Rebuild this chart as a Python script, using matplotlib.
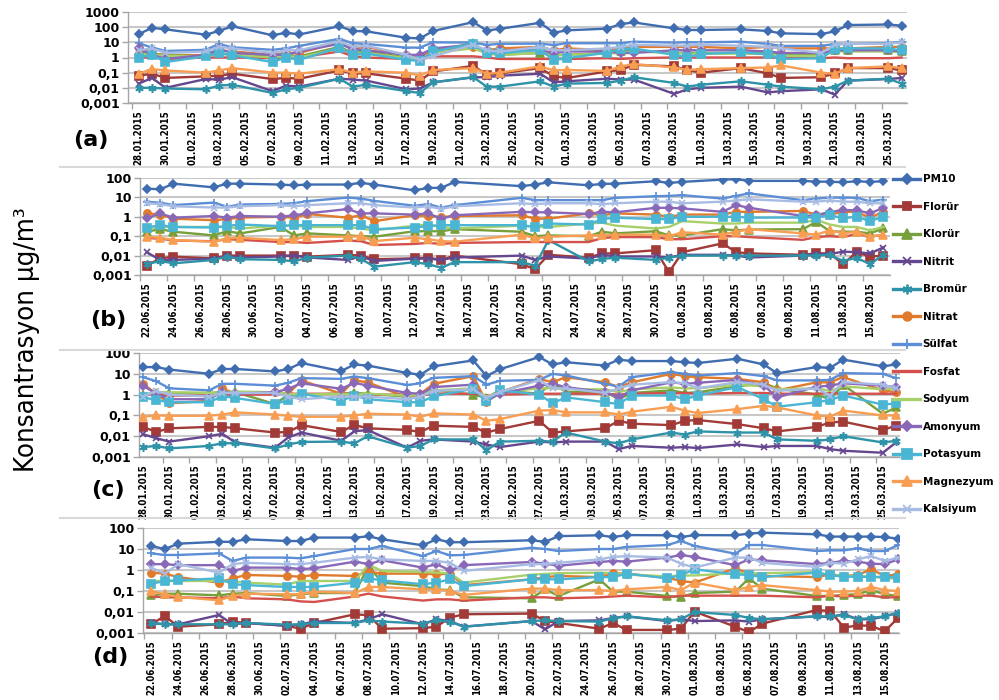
import pandas as pd
import matplotlib
matplotlib.use('Agg')
import matplotlib.pyplot as plt
import matplotlib.dates as mdates
import matplotlib.font_manager as fm
from matplotlib.lines import Line2D

# sampling dates (panels a and c: winter, panels b and d: summer)
dates_ac = ['28.01.2015', '29.01.2015', '30.01.2015', '02.02.2015', '03.02.2015', '04.02.2015',
            '07.02.2015', '08.02.2015', '09.02.2015', '12.02.2015', '13.02.2015', '14.02.2015',
            '17.02.2015', '18.02.2015', '19.02.2015', '22.02.2015', '23.02.2015', '24.02.2015',
            '27.02.2015', '28.02.2015', '01.03.2015', '04.03.2015', '05.03.2015', '06.03.2015',
            '09.03.2015', '10.03.2015', '11.03.2015', '14.03.2015', '16.03.2015', '17.03.2015',
            '20.03.2015', '21.03.2015', '22.03.2015', '25.03.2015', '26.03.2015']
dates_bd = ['22.06.2015', '23.06.2015', '24.06.2015', '27.06.2015', '28.06.2015', '29.06.2015',
            '02.07.2015', '03.07.2015', '04.07.2015', '07.07.2015', '08.07.2015', '09.07.2015',
            '12.07.2015', '13.07.2015', '14.07.2015', '15.07.2015', '20.07.2015', '21.07.2015',
            '22.07.2015', '25.07.2015', '26.07.2015', '27.07.2015', '30.07.2015', '31.07.2015',
            '01.08.2015', '04.08.2015', '05.08.2015', '06.08.2015', '10.08.2015', '11.08.2015',
            '12.08.2015', '13.08.2015', '14.08.2015', '15.08.2015', '16.08.2015']

species = ['PM10', 'Florür', 'Klorür', 'Nitrit', 'Bromür', 'Nitrat', 'Sülfat',
           'Fosfat', 'Sodyum', 'Amonyum', 'Potasyum', 'Magnezyum', 'Kalsiyum']

# panel (a)
a_pm10 = [35, 90, 72, 32, 56, 115, 29, 43, 33, 115, 56, 53, 20, 18, 56, 215, 60, 78, 195, 43,
          62, 80, 160, 205, 83, 65, 65, 72, 56, 39, 35, 53, 138, 150, 125]
a_florur = [0.063, 0.085, 0.045, 0.057, 0.063, 0.085, 0.038, 0.045, 0.04, 0.14, 0.09, 0.09, 0.04,
            0.03, 0.12, 0.28, 0.075, 0.09, 0.2, 0.057, 0.045, 0.12, 0.15, 0.33, 0.26, 0.15, 0.1,
            0.2, 0.09, 0.045, 0.05, 0.09, 0.2, 0.2, 0.14]
a_klorur = [2.5, 1.8, 1.5, 1.4, 2, 1.5, 1.2, 1.5, 1.2, 5, 2, 2.5, 1, 0.8, 2.5, 9, 2, 1.5, 2, 1.5,
            1.5, 2, 2.5, 3, 2, 2, 2, 2, 2, 1.5, 1.5, 3, 3, 3, 2.5]
a_nitrit = [0.019, 0.045, 0.01, 0.038, 0.035, 0.05, 0.006, 0.014, 0.012, 0.04, 0.035, 0.03,
            0.008, 0.009, 0.023, 0.05, 0.05, 0.063, 0.085, 0.023, 0.027, 0.04, 0.035, 0.035,
            0.004, 0.008, 0.01, 0.012, 0.005, 0.006, 0.008, 0.0036, 0.03, 0.038, 0.045]
a_bromur = [0.01, 0.01, 0.009, 0.008, 0.014, 0.016, 0.0046, 0.008, 0.01, 0.04, 0.012, 0.016,
            0.006, 0.0046, 0.023, 0.05, 0.012, 0.012, 0.027, 0.012, 0.019, 0.021, 0.03, 0.05,
            0.021, 0.012, 0.016, 0.027, 0.016, 0.012, 0.008, 0.012, 0.03, 0.04, 0.019]
a_nitrat = [4, 2, 1.2, 1.5, 3, 2.5, 1.5, 2, 2, 10, 4, 5, 1.5, 1, 3, 5, 3, 4, 5, 3, 4, 3, 4, 5,
            5, 5, 5, 4, 5, 4, 4, 4, 4, 5, 5]
a_sulfat = [8.7, 4.5, 2.7, 3.2, 7.8, 4.7, 3.2, 4, 5.8, 17, 8.7, 7.8, 4.5, 4.5, 10, 9.6, 6.8, 8,
            8.2, 6.7, 8.7, 8.7, 8.7, 11, 9.6, 10, 10, 11, 7.8, 5.8, 5.8, 7.8, 7.8, 8.7, 11]
a_fosfat = [1, 1, 0.8, 1, 1, 1, 0.9, 1, 1, 2.5, 1.2, 1, 0.8, 0.7, 1.2, 1.2, 1, 0.8, 0.8, 0.8,
            0.8, 0.9, 0.8, 0.9, 1, 1, 1, 1, 1, 1, 0.9, 1, 0.9, 0.9, 1]
a_sodyum = [1.5, 1.5, 1.3, 1.2, 1.7, 1.5, 1.0, 1.3, 1.0, 4, 1.8, 2, 0.9, 0.8, 2, 4, 1.8, 1.5, 2,
            1.3, 1.5, 1.8, 2, 2.5, 2, 1.8, 1.8, 1.8, 1.7, 1.3, 1.3, 2.5, 2.5, 2.5, 2.2]
a_amonyum = [4, 1.5, 0.8, 1.5, 3.5, 2, 1.5, 1.5, 2.5, 8, 3.5, 3, 1.5, 1.5, 4, 7, 2.5, 3, 3, 2,
             2.5, 2.5, 2, 2, 3, 3, 3, 3, 2.5, 2, 2, 3, 3, 3, 2.5]
a_potasyum = [1, 1.5, 0.5, 1.2, 2, 1.4, 0.5, 1, 0.7, 4.5, 1.5, 1.8, 0.7, 0.6, 2.5, 8, 1.9, 1.9,
              3.2, 0.7, 0.9, 2.1, 3.5, 3.9, 1.5, 1.05, 1.7, 2.2, 1.6, 0.8, 0.9, 3.5, 4, 4, 2.9]
a_magnezyum = [0.085, 0.17, 0.14, 0.1, 0.14, 0.2, 0.1, 0.1, 0.085, 0.17, 0.1, 0.12, 0.1, 0.065,
               0.15, 0.2, 0.085, 0.1, 0.26, 0.14, 0.15, 0.13, 0.26, 0.37, 0.22, 0.15, 0.17, 0.2,
               0.22, 0.3, 0.1, 0.085, 0.2, 0.26, 0.2]
a_kalsiyum = [3, 4, 2, 2.5, 5, 4, 2, 3, 3, 12, 5, 6, 1.5, 0.7, 1.2, 7, 3, 2.5, 5, 3, 3, 4, 5, 7,
              6, 6, 7, 6, 5, 4, 2, 7, 8, 8, 10]

# panel (b)
b_pm10 = [28.5, 26, 51, 33, 51, 51, 46, 42, 46, 46, 56, 46, 23, 31, 31, 63, 38, 46, 60, 42, 50,
          51, 68, 56, 63, 83, 86, 71, 71, 65, 65, 60, 68, 63, 68]
b_florur = [0.003, 0.0072, 0.0088, 0.0072, 0.01, 0.01, 0.01, 0.01, 0.0088, 0.011, 0.01, 0.0065,
            0.0072, 0.0078, 0.006, 0.01, 0.0036, 0.002, 0.011, 0.0078, 0.013, 0.013, 0.019,
            0.0014, 0.015, 0.043, 0.015, 0.013, 0.011, 0.013, 0.013, 0.0036, 0.015, 0.0088, 0.01]
b_klorur = [0.17, 0.23, 0.17, 0.11, 0.18, 0.14, 0.3, 0.11, 0.14, 0.11, 0.1, 0.094, 0.18, 0.18,
            0.18, 0.23, 0.17, 0.1, 0.11, 0.1, 0.17, 0.14, 0.18, 0.11, 0.11, 0.23, 0.2, 0.22, 0.23,
            0.55, 0.18, 0.17, 0.17, 0.14, 0.25]
b_nitrit = [0.015, 0.006, 0.006, 0.007, 0.009, 0.008, 0.009, 0.01, 0.008, 0.006, 0.009, 0.0053,
            0.007, 0.007, 0.006, 0.008, 0.01, 0.006, 0.009, 0.007, 0.011, 0.009, 0.009, 0.008,
            0.011, 0.011, 0.01, 0.008, 0.01, 0.012, 0.012, 0.016, 0.015, 0.013, 0.026]
b_bromur = [0.0036, 0.0053, 0.004, 0.006, 0.0088, 0.0065, 0.006, 0.005, 0.0078, 0.01, 0.0067,
            0.0027, 0.0046, 0.0036, 0.0024, 0.0046, 0.0046, 0.003, 0.063, 0.005, 0.0067, 0.0078,
            0.006, 0.0078, 0.01, 0.01, 0.01, 0.01, 0.01, 0.01, 0.011, 0.0053, 0.0078, 0.0036,
            0.011]
b_nitrat = [1.5, 1.3, 0.8, 0.67, 0.76, 0.92, 1, 0.9, 1.4, 0.9, 1.2, 0.6, 1.2, 1.1, 0.96, 1.1,
            1.2, 0.8, 0.8, 1.5, 1.2, 1.5, 1.3, 1, 1.3, 1.3, 1.8, 1.8, 2, 1.3, 1.3, 1.8, 1.8, 0.9,
            1.8]
b_sulfat = [5.9, 5.4, 4, 5.4, 3.3, 4.3, 4.6, 5, 6.4, 9.8, 8.7, 6.6, 3.7, 4.5, 3, 4, 9.5, 7.2,
            7.2, 7.2, 7.2, 9.5, 11.5, 12, 13, 8.7, 12, 16, 7.2, 8.7, 9.8, 9.8, 9.5, 6.4, 7.7]
b_fosfat = [0.08, 0.075, 0.06, 0.055, 0.07, 0.065, 0.05, 0.05, 0.045, 0.06, 0.055, 0.035, 0.04,
            0.045, 0.04, 0.045, 0.05, 0.05, 0.05, 0.05, 0.08, 0.09, 0.09, 0.07, 0.07, 0.1, 0.1,
            0.09, 0.065, 0.09, 0.1, 0.09, 0.13, 0.1, 0.11]
b_sodyum = [0.25, 0.3, 0.3, 0.3, 0.3, 0.25, 0.35, 0.35, 0.3, 0.3, 0.25, 0.2, 0.35, 0.4, 0.3,
            0.25, 0.35, 0.3, 0.3, 0.45, 0.5, 0.35, 0.25, 0.3, 0.6, 0.45, 0.45, 0.5, 0.5, 0.7, 0.4,
            0.3, 0.3, 0.2, 0.3]
b_amonyum = [0.82, 1.5, 0.9, 1.1, 0.9, 1.1, 1, 1.2, 1.5, 2.5, 1.5, 1.5, 1.3, 1.5, 0.8, 1.2, 1.8,
             1.7, 1.7, 1.4, 1.8, 1.7, 2.9, 2.9, 2.7, 1.8, 4, 2.9, 1.1, 1.2, 1.8, 2.2, 2.2, 1.5,
             2.9]
b_potasyum = [0.28, 0.37, 0.3, 0.28, 0.34, 0.4, 0.33, 0.37, 0.37, 0.37, 0.37, 0.23, 0.28, 0.33,
              0.37, 0.37, 0.37, 0.3, 0.45, 0.4, 0.76, 0.9, 0.76, 0.76, 1, 1, 1, 0.9, 0.92, 0.92,
              1.2, 0.85, 1, 0.6, 1]
b_magnezyum = [0.094, 0.083, 0.063, 0.052, 0.077, 0.083, 0.063, 0.07, 0.094, 0.094, 0.1, 0.056,
               0.083, 0.07, 0.056, 0.052, 0.12, 0.077, 0.094, 0.11, 0.11, 0.12, 0.12, 0.1, 0.16,
               0.12, 0.17, 0.23, 0.14, 0.12, 0.2, 0.14, 0.17, 0.094, 0.12]
b_kalsiyum = [5, 4.5, 3.5, 3, 3, 3.5, 4, 3.5, 4, 5, 5, 4, 3, 3.5, 2.5, 3.5, 5, 4.5, 5, 5, 4.5,
              5, 6, 6, 5, 6, 7, 8, 6, 6, 7, 6, 6, 5, 5]

# panel (c)
c_pm10 = [21, 21, 16, 10, 17, 17, 13, 17, 33, 13.5, 28, 25, 11, 9, 23, 44, 7.8, 16.5, 64, 28,
          36, 25, 48, 41, 41, 36, 33, 53, 28, 10.5, 21, 19, 48, 23, 28]
c_florur = [0.028, 0.016, 0.024, 0.028, 0.028, 0.024, 0.015, 0.016, 0.034, 0.016, 0.035, 0.024,
            0.02, 0.016, 0.032, 0.028, 0.015, 0.022, 0.055, 0.015, 0.017, 0.024, 0.055, 0.04,
            0.034, 0.055, 0.06, 0.038, 0.024, 0.017, 0.028, 0.046, 0.05, 0.02, 0.032]
c_klorur = [1.0, 1.2, 1.2, 1.2, 1.3, 1.3, 0.35, 1.0, 1.0, 1.1, 1.2, 1.1, 0.8, 0.9, 1.6, 1.0,
            0.7, 1.6, 1.1, 3.9, 1.3, 1.4, 0.6, 1.2, 1.6, 1.2, 1.3, 2.5, 3.5, 2, 1, 0.6, 3, 0.12,
            0.24]
c_nitrit = [0.0125, 0.008, 0.0055, 0.01, 0.013, 0.005, 0.0028, 0.0087, 0.015, 0.006, 0.017, 0.02,
            0.0028, 0.006, 0.007, 0.0055, 0.004, 0.003, 0.0055, 0.005, 0.0055, 0.0055, 0.0024,
            0.0034, 0.0028, 0.003, 0.0027, 0.004, 0.003, 0.0034, 0.0034, 0.0024, 0.002, 0.0016,
            0.005]
c_bromur = [0.003, 0.0034, 0.0026, 0.0034, 0.0046, 0.0046, 0.0026, 0.004, 0.0053, 0.0055,
            0.0045, 0.01, 0.0028, 0.0034, 0.007, 0.007, 0.0021, 0.0055, 0.006, 0.0055, 0.015,
            0.0055, 0.0045, 0.007, 0.015, 0.012, 0.017, 0.015, 0.015, 0.007, 0.006, 0.007, 0.01,
            0.005, 0.006]
c_nitrat = [3.3, 1.1, 0.38, 0.5, 2, 1.1, 1.3, 1.1, 4.8, 1.1, 4.8, 3.9, 0.74, 1.1, 3.3, 7.7, 0.43,
            1.3, 5.7, 3.9, 6.9, 3.9, 2.3, 3.9, 10, 7.7, 6.9, 5.7, 3.9, 1.6, 3.9, 3.9, 6.9, 1.6,
            1.3]
c_sulfat = [6.9, 4.4, 2, 1.6, 3.3, 3.3, 2.7, 3.7, 6.2, 5.7, 7.4, 6.2, 2.9, 3.5, 6.4, 7.7, 3, 4.6,
            5.1, 10, 8.3, 3.3, 2.4, 6.9, 12, 10, 8.3, 10.8, 7.7, 4.8, 4.8, 5.1, 10.8, 10, 6.2]
c_fosfat = [1, 1, 0.9, 0.9, 1, 1, 1, 1.1, 1.1, 1.1, 1.1, 1, 1, 0.9, 1.1, 1.1, 0.9, 1, 1.1, 1.1,
            1.1, 1.1, 1, 1.1, 1.2, 1.2, 1.1, 1.2, 1.2, 1.1, 1.1, 1.2, 1.1, 1.1, 1.1]
c_sodyum = [1.0, 1.3, 1.3, 1.2, 1.3, 1.4, 1.3, 1.1, 1.0, 1.1, 1.0, 1.1, 0.9, 1.0, 1.6, 2, 0.8,
            1.3, 2, 2, 1.8, 1.8, 1.3, 1.8, 2.2, 2, 2, 3, 2.5, 1.8, 2, 1.5, 2.5, 1.8, 2]
c_amonyum = [2.7, 1.1, 0.6, 0.6, 1.4, 1.1, 1.3, 1.9, 3.5, 1.9, 3.7, 2.7, 1.2, 1.1, 2.3, 3, 0.5,
             1.1, 2.7, 3.3, 2.3, 1.3, 0.74, 1.6, 3.9, 3.3, 3.7, 5.1, 2.7, 0.74, 2.4, 2.7, 3.5,
             2.7, 2.3]
c_potasyum = [0.74, 0.55, 0.43, 0.43, 0.83, 0.69, 0.35, 0.55, 1.1, 0.5, 0.9, 0.6, 0.43, 0.43,
              0.83, 1.9, 0.48, 1.6, 1, 0.38, 0.74, 0.43, 0.35, 0.9, 0.9, 0.6, 0.9, 2.3, 0.6, 0.26,
              0.43, 0.55, 0.9, 0.33, 0.38]
c_magnezyum = [0.086, 0.1, 0.096, 0.096, 0.11, 0.14, 0.11, 0.096, 0.086, 0.086, 0.1, 0.12, 0.11,
               0.086, 0.125, 0.11, 0.055, 0.066, 0.17, 0.18, 0.14, 0.14, 0.11, 0.15, 0.26, 0.17,
               0.13, 0.2, 0.29, 0.24, 0.1, 0.086, 0.17, 0.1, 0.1]
c_kalsiyum = [0.8, 1.5, 1.0, 0.8, 1.2, 1.2, 1.2, 0.8, 0.6, 0.8, 0.8, 0.8, 0.6, 0.8, 1.5, 1.8,
              0.7, 1.3, 5, 2, 2, 1.2, 2, 3, 4, 3.5, 2, 4, 3, 1.5, 2, 0.9, 4, 3, 2]

# panel (d)
d_pm10 = [14, 10, 18, 22, 22, 29, 24, 24, 35, 35, 40, 29, 15, 29, 21, 21, 26, 22, 41, 45, 37,
          46, 45, 37, 46, 45, 54, 60, 50, 39, 39, 39, 39, 37, 31]
d_florur = [0.0026, 0.0064, 0.002, 0.0026, 0.0035, 0.003, 0.0022, 0.0016, 0.003, 0.0078, 0.007,
            0.0016, 0.0017, 0.002, 0.0054, 0.0078, 0.0084, 0.0037, 0.003, 0.0016, 0.003, 0.0014,
            0.0014, 0.0016, 0.0104, 0.002, 0.0011, 0.0028, 0.0125, 0.011, 0.0018, 0.0023, 0.0022,
            0.0012, 0.0054]
d_klorur = [0.062, 0.074, 0.074, 0.062, 0.074, 0.08, 0.058, 0.07, 0.08, 0.08, 1.55, 0.25, 0.17,
            0.12, 0.11, 0.05, 0.045, 0.12, 0.058, 0.36, 0.093, 0.093, 0.058, 0.052, 0.08, 0.093,
            0.4, 0.13, 0.058, 0.058, 0.065, 0.07, 0.11, 0.07, 0.058]
d_nitrit = [0.003, 0.0026, 0.0026, 0.0072, 0.0026, 0.003, 0.0022, 0.0026, 0.0035, 0.003, 0.0045,
            0.0078, 0.0026, 0.0045, 0.0037, 0.002, 0.0037, 0.0015, 0.0037, 0.004, 0.0052, 0.0062,
            0.0037, 0.0045, 0.0037, 0.004, 0.0035, 0.0045, 0.0062, 0.0056, 0.008, 0.0045, 0.0045,
            0.0062, 0.0093]
d_bromur = [0.003, 0.0026, 0.0026, 0.0026, 0.0026, 0.003, 0.0025, 0.0026, 0.003, 0.003, 0.004,
            0.0035, 0.0028, 0.004, 0.0035, 0.002, 0.0037, 0.004, 0.0037, 0.0035, 0.005, 0.0062,
            0.004, 0.0045, 0.01, 0.0072, 0.0052, 0.0045, 0.0062, 0.0062, 0.0072, 0.0045, 0.0052,
            0.0062, 0.0093]
d_nitrat = [0.75, 0.67, 0.46, 0.25, 0.4, 0.58, 0.52, 0.48, 0.58, 0.52, 0.83, 0.67, 0.67, 0.62,
            0.67, 0.19, 0.36, 0.46, 0.52, 0.46, 0.7, 0.67, 0.43, 0.3, 0.25, 1.2, 0.67, 0.52, 0.46,
            0.62, 0.52, 0.58, 1.08, 0.52, 0.62]
d_sulfat = [6.2, 5.2, 5.2, 6.2, 2.7, 3.9, 3.9, 3.6, 4.6, 10, 10, 14, 4.6, 8, 5, 5.2, 11.5, 10, 8,
            10, 10, 12.5, 15.5, 24, 14, 6, 15.5, 15.5, 8, 8.6, 8.6, 10.7, 8, 8, 15.5]
d_fosfat = [0.055, 0.05, 0.05, 0.045, 0.055, 0.045, 0.04, 0.032, 0.03, 0.055, 0.075, 0.055,
            0.035, 0.04, 0.04, 0.035, 0.05, 0.05, 0.045, 0.05, 0.055, 0.06, 0.05, 0.06, 0.06,
            0.06, 0.06, 0.06, 0.05, 0.06, 0.055, 0.06, 0.06, 0.05, 0.05]
d_sodyum = [0.3, 0.3, 0.3, 0.3, 0.28, 0.25, 0.2, 0.3, 0.3, 0.3, 1.8, 0.9, 0.8, 0.75, 0.7, 0.25,
            0.6, 0.65, 0.7, 0.75, 0.7, 0.6, 0.5, 0.55, 0.55, 0.7, 0.7, 0.7, 0.8, 0.55, 0.55, 0.5,
            0.5, 0.4, 0.4]
d_amonyum = [1.9, 1.9, 1.7, 1.7, 0.9, 1.3, 1.3, 1.1, 1.2, 2.5, 1.9, 2.9, 1.3, 1.9, 0.96, 1.7,
             2.4, 2, 1.6, 2.4, 2.7, 2.5, 3.9, 5.2, 4.2, 1.7, 3.2, 2.9, 1.9, 2.2, 2.7, 2.5, 2, 1.9,
             3.2]
d_potasyum = [0.22, 0.3, 0.32, 0.4, 0.21, 0.19, 0.155, 0.155, 0.155, 0.25, 0.4, 0.32, 0.21, 0.25,
              0.36, 0.17, 0.36, 0.36, 0.36, 0.46, 0.46, 0.67, 0.4, 0.58, 1.08, 0.62, 0.58, 0.46,
              0.75, 0.56, 0.48, 0.48, 0.46, 0.48, 0.43]
d_magnezyum = [0.1, 0.07, 0.052, 0.036, 0.058, 0.074, 0.07, 0.07, 0.093, 0.08, 0.155, 0.155,
               0.12, 0.12, 0.1, 0.065, 0.13, 0.13, 0.11, 0.11, 0.1, 0.12, 0.155, 0.11, 0.25, 0.11,
               0.155, 0.19, 0.11, 0.093, 0.093, 0.1, 0.155, 0.11, 0.1]
d_kalsiyum = [1.3, 0.67, 1.9, 0.75, 1.9, 2.2, 1.9, 1.9, 2.2, 3.9, 4.2, 3.2, 2.7, 2.7, 2.2, 0.9,
              1.9, 1.9, 2.2, 3.2, 4.2, 4.6, 3.9, 2, 1.3, 3.9, 3.9, 2.2, 1.4, 2.2, 2, 3.2, 4.6,
              2.7, 3.9]

# Excel-like styles: colour, marker, marker size
styles = {
    'PM10': ('#3F6DB0', 'D', 3.8),
    'Florür': ('#A23A37', 's', 5.2),
    'Klorür': ('#77A03C', '^', 5.5),
    'Nitrit': ('#65478F', 'x', 5.0),
    'Bromür': ('#2E93A8', (6, 2, 0), 6.0),
    'Nitrat': ('#E07A2C', 'o', 5.2),
    'Sülfat': ('#5B8ED6', '+', 6.0),
    'Fosfat': ('#D4504C', None, 0),
    'Sodyum': ('#A7CF6A', None, 0),
    'Amonyum': ('#8A68B8', 'D', 4.2),
    'Potasyum': ('#4AB6D3', 's', 5.8),
    'Magnezyum': ('#F89E52', '^', 5.8),
    'Kalsiyum': ('#A8BCE3', 'x', 5.0),
}

panels = [
    ('(a)', dates_ac, [a_pm10, a_florur, a_klorur, a_nitrit, a_bromur, a_nitrat, a_sulfat,
                       a_fosfat, a_sodyum, a_amonyum, a_potasyum, a_magnezyum, a_kalsiyum]),
    ('(b)', dates_bd, [b_pm10, b_florur, b_klorur, b_nitrit, b_bromur, b_nitrat, b_sulfat,
                       b_fosfat, b_sodyum, b_amonyum, b_potasyum, b_magnezyum, b_kalsiyum]),
    ('(c)', dates_ac, [c_pm10, c_florur, c_klorur, c_nitrit, c_bromur, c_nitrat, c_sulfat,
                       c_fosfat, c_sodyum, c_amonyum, c_potasyum, c_magnezyum, c_kalsiyum]),
    ('(d)', dates_bd, [d_pm10, d_florur, d_klorur, d_nitrit, d_bromur, d_nitrat, d_sulfat,
                       d_fosfat, d_sodyum, d_amonyum, d_potasyum, d_magnezyum, d_kalsiyum]),
]

# pixel boxes (left, right, top, bottom), x-limits in days, top decade, label position
W, H = 999, 700
boxes = [(128, 907, 12, 103), (140, 890, 178, 275), (139, 900, 353, 457), (143, 899, 528, 633)]
xlims = [(-0.8, 57.4), (-0.5, 55.5), (-0.3, 57.3), (-0.6, 55.05)]
ytops = [1000, 100, 100, 100]
label_pos = [(91, 140), (108, 320), (108, 490), (110, 657)]


def pick_narrow(bold):
    # look for any installed narrow/condensed face, else fall back to DejaVu Sans
    for f in fm.fontManager.ttflist:
        nm = f.name + ' ' + str(f.stretch) + ' ' + f.fname
        if ('Narrow' in nm or 'Condensed' in nm or 'condensed' in nm) and \
                (('Bold' in f.fname or f.weight in ('bold', 700)) == bold) and \
                'Oblique' not in f.fname and 'Italic' not in f.fname:
            return fm.FontProperties(fname=f.fname)
    return fm.FontProperties(family='DejaVu Sans', weight='bold' if bold else 'normal')


date_font = pick_narrow(True)
ylab_font = pick_narrow(False)

fig = plt.figure(figsize=(W / 100, H / 100), dpi=100)
axes = []

for k, (tag, dates, series) in enumerate(panels):
    l, r, t, b = boxes[k]
    ax = fig.add_axes([l / W, 1 - b / H, (r - l) / W, (b - t) / H])
    axes.append(ax)
    x = pd.to_datetime(dates, format='%d.%m.%Y')
    for name, vals in zip(species, series):
        col, mk, ms = styles[name]
        ax.plot(x, vals, color=col, lw=1.7, marker=mk, markersize=ms,
                markeredgewidth=1.2, label=name, zorder=3)
    ax.set_yscale('log')
    ax.set_ylim(0.001, ytops[k])
    decades = [10.0 ** e for e in range(-3, 4) if 10.0 ** e <= ytops[k] * 1.01]
    ax.set_yticks(decades)
    ax.set_yticklabels([('%g' % d).replace('.', ',') for d in decades])
    ax.yaxis.set_minor_locator(plt.NullLocator())
    ax.grid(axis='y', color='#C8C8C8', lw=1.5, zorder=0)

    start = mdates.date2num(x[0])
    ax.set_xlim(start + xlims[k][0], start + xlims[k][1])
    major = [start + 2 * i for i in range(30) if start + 2 * i <= start + xlims[k][1]]
    ax.set_xticks(major)
    ax.xaxis.set_major_formatter(mdates.DateFormatter('%d.%m.%Y'))
    ax.set_xticks([m - 0.5 for m in major if m - 0.5 >= start + xlims[k][0] - 0.01], minor=True)
    ax.tick_params(axis='x', which='major', length=0, pad=5)
    ax.tick_params(axis='x', which='minor', length=4, color='#A6A6A6', width=1)
    ax.tick_params(axis='y', which='major', length=4, color='#A6A6A6', width=1, pad=2)
    for lab in ax.get_xticklabels():
        lab.set_rotation(90)
        lab.set_fontproperties(date_font)
        lab.set_fontsize(9.6)
    for lab in ax.get_yticklabels():
        lab.set_family('DejaVu Sans')
        lab.set_fontweight('bold')
        lab.set_fontsize(9)
    for side in ['top', 'right']:
        ax.spines[side].set_visible(False)
    for side in ['left', 'bottom']:
        ax.spines[side].set_color('#A6A6A6')
        ax.spines[side].set_linewidth(1)

    lx, ly = label_pos[k]
    fig.text(lx / W, 1 - ly / H, tag, ha='center', va='center', fontsize=16,
             fontweight='bold', family='DejaVu Sans')

# light frames between the stacked charts
for yy in [167, 350, 518]:
    fig.add_artist(Line2D([60 / W, 905 / W], [1 - yy / H, 1 - yy / H], color='#D9D9D9', lw=1.5))

ylab = fig.text(27 / W, 1 - 340 / H, 'Konsantrasyon µg/m³', rotation=90, ha='center',
                va='center', fontproperties=ylab_font, fontsize=23)

handles = [Line2D([], [], color=styles[n][0], lw=2.4, marker=styles[n][1],
                  markersize=styles[n][2] + 1, markeredgewidth=1.3) for n in species]
leg = fig.legend(handles, species, loc='upper left', bbox_to_anchor=(884 / W, 1 - 165 / H),
                 frameon=False, handlelength=2.6, handletextpad=0.2, labelspacing=1.68,
                 prop={'family': 'DejaVu Sans', 'weight': 'bold', 'size': 7.5})

# scale rotated texts so their lengths match the reference (date labels ~55 px, y title ~265 px)
fig.canvas.draw()
rend = fig.canvas.get_renderer()
lab0 = axes[0].get_xticklabels()[0]
date_size = 9.6 * 55.0 / lab0.get_window_extent(rend).height
for ax in axes:
    for lab in ax.get_xticklabels():
        lab.set_fontsize(date_size)
ylab.set_fontsize(23 * 265.0 / ylab.get_window_extent(rend).height)

fig.savefig('out.png', dpi=100)
